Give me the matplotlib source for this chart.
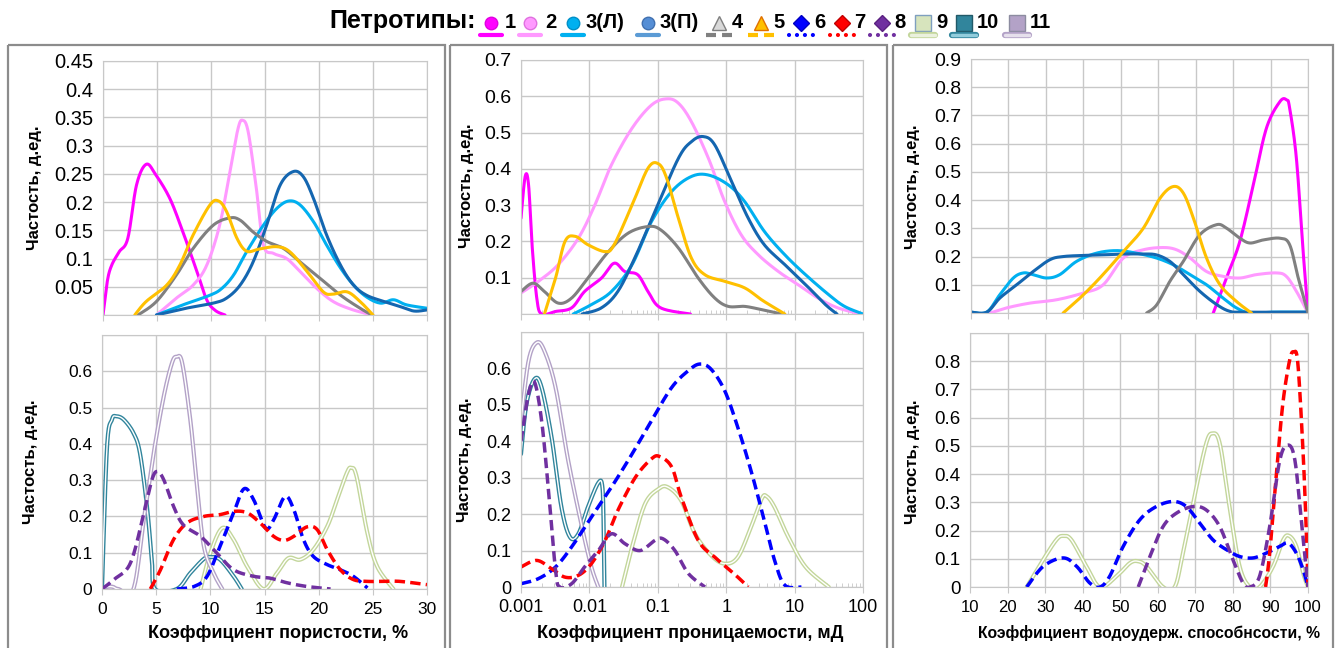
import numpy as np
import matplotlib
matplotlib.use('Agg')
import matplotlib.pyplot as plt
from matplotlib.patches import Rectangle
from matplotlib.ticker import FixedLocator, NullFormatter

W, H = 1338, 648
plt.rcParams['font.family'] = ['Liberation Sans', 'DejaVu Sans']
GRID = '#C8C8C8'

# ---------------- porosity, % (top: types 1-5) ----------------
por1_x = [0, 0.4, 0.8, 1.5, 2.3, 3.1, 4.0, 4.9, 6.2, 7.4, 8.7, 9.6, 10.4, 11.3]
por1_y = [0, 0.06, 0.088, 0.112, 0.136, 0.23, 0.267, 0.248, 0.206, 0.147, 0.077, 0.027, 0.008, 0]
por2_x = [4.95, 6.8, 8.35, 9.6, 10.8, 11.75, 12.5, 12.93, 13.45, 14.2, 14.85, 15.8, 17.0, 18.25, 19.8, 21.3, 23.0, 24.9]
por2_y = [0, 0.03, 0.053, 0.088, 0.159, 0.254, 0.33, 0.345, 0.324, 0.224, 0.124, 0.109, 0.1, 0.077, 0.047, 0.024, 0.01, 0]
por3l_x = [4.95, 7.4, 9.9, 11.0, 12.1, 13.3, 14.85, 16.1, 17.2, 18.25, 19.5, 20.7, 22.0, 23.2, 24.4, 25.7, 26.9, 28.1, 30]
por3l_y = [0, 0.018, 0.035, 0.047, 0.071, 0.112, 0.159, 0.189, 0.202, 0.195, 0.165, 0.124, 0.083, 0.053, 0.032, 0.021, 0.027, 0.018, 0.012]
por3p_x = [4.95, 7.7, 10.2, 11.45, 12.7, 13.9, 15.15, 16.4, 17.6, 18.55, 19.5, 20.7, 22.0, 23.2, 24.4, 26.0, 27.5, 28.8, 30]
por3p_y = [0, 0.012, 0.021, 0.03, 0.053, 0.094, 0.159, 0.23, 0.254, 0.245, 0.206, 0.142, 0.088, 0.053, 0.035, 0.024, 0.015, 0.007, 0.009]
por4_x = [3.25, 4.95, 6.8, 8.35, 10.2, 11.75, 12.7, 13.9, 15.2, 16.7, 18.25, 20.1, 22.0, 23.8, 24.9]
por4_y = [0, 0.024, 0.071, 0.118, 0.159, 0.172, 0.168, 0.147, 0.13, 0.118, 0.094, 0.065, 0.035, 0.012, 0]
por5_x = [2.94, 4.0, 5.9, 7.1, 8.35, 9.9, 10.7, 11.45, 12.4, 13.3, 14.5, 16.1, 17.3, 18.9, 20.4, 21.3, 22.6, 23.8, 25.0]
por5_y = [0, 0.024, 0.053, 0.088, 0.142, 0.195, 0.202, 0.183, 0.136, 0.113, 0.117, 0.121, 0.112, 0.077, 0.041, 0.037, 0.041, 0.024, 0]

# ---------------- porosity, % (bottom: types 6-11) ----------------
por6_x = [6.9, 8.5, 9.7, 10.9, 12.15, 13.1, 14.0, 15.1, 15.85, 16.9, 17.7, 18.6, 19.5, 20.8, 22.0, 23.2, 24.5]
por6_y = [0, 0.007, 0.035, 0.118, 0.21, 0.276, 0.246, 0.168, 0.191, 0.255, 0.219, 0.136, 0.09, 0.067, 0.053, 0.035, 0.003]
por7_x = [4.46, 5.4, 6.6, 7.85, 9.4, 10.9, 12.15, 13.4, 14.6, 15.85, 16.8, 17.7, 18.9, 19.85, 20.8, 22.0, 23.2, 24.5, 26.0, 27.5, 30]
por7_y = [0, 0.053, 0.136, 0.182, 0.2, 0.205, 0.214, 0.21, 0.182, 0.145, 0.134, 0.145, 0.171, 0.164, 0.108, 0.053, 0.026, 0.021, 0.021, 0.021, 0.012]
por8_x = [0, 1.1, 2.6, 3.8, 4.6, 5.1, 5.7, 6.6, 7.5, 9.1, 10.6, 12.15, 14.0, 15.5, 17.1, 18.9, 21.1]
por8_y = [0, 0.026, 0.07, 0.2, 0.3, 0.324, 0.301, 0.228, 0.177, 0.145, 0.099, 0.053, 0.035, 0.03, 0.017, 0.007, 0]
por9_x = [9.1, 10.0, 11.1, 12.15, 13.4, 14.9, 16.15, 17.2, 18.3, 19.5, 20.8, 21.7, 22.6, 23.0, 23.5, 24.5, 25.4, 26.9]
por9_y = [0, 0.099, 0.168, 0.136, 0.062, 0, 0.044, 0.085, 0.081, 0.108, 0.173, 0.246, 0.32, 0.334, 0.31, 0.154, 0.062, 0]
por10_x = [0, 0.46, 0.92, 1.3, 2.0, 2.9, 3.5, 4.15, 4.6, 4.9, 6.9, 8.15, 9.4, 10.0, 10.9, 12.15, 12.9]
por10_y = [0, 0.39, 0.467, 0.476, 0.467, 0.43, 0.375, 0.228, 0.081, 0, 0, 0.044, 0.083, 0.088, 0.081, 0.035, 0]
por11_x = [0, 0.5, 1.0, 1.5, 2.9, 3.85, 4.77, 5.7, 6.46, 6.9, 7.4, 8.15, 8.77, 9.4, 10.3, 11.1]
por11_y = [0, 0.006, 0.006, 0, 0, 0.19, 0.375, 0.531, 0.623, 0.64, 0.623, 0.467, 0.283, 0.118, 0.044, 0]

# ---------------- permeability, mD (top: types 1-5) ----------------
perm1_x = [0.001, 0.00115, 0.00129, 0.00145, 0.0017, 0.002, 0.0032, 0.0055, 0.0085, 0.015, 0.023, 0.033, 0.051, 0.072, 0.11, 0.3]
perm1_y = [0.264, 0.379, 0.356, 0.191, 0.044, 0, 0.007, 0.017, 0.062, 0.099, 0.14, 0.117, 0.108, 0.062, 0.017, 0]
perm2_x = [0.001, 0.0018, 0.0035, 0.0069, 0.012, 0.021, 0.042, 0.081, 0.135, 0.2, 0.31, 0.55, 0.95, 1.66, 2.95, 5.8, 11.2, 21.9, 42.7, 93]
perm2_y = [0.058, 0.09, 0.136, 0.209, 0.3, 0.411, 0.512, 0.576, 0.593, 0.581, 0.53, 0.429, 0.31, 0.218, 0.163, 0.117, 0.081, 0.044, 0.017, 0]
perm3l_x = [0.0058, 0.0107, 0.021, 0.042, 0.081, 0.16, 0.31, 0.55, 1.07, 1.86, 3.6, 7.2, 14.5, 31.6, 53.7, 100]
perm3l_y = [0, 0.026, 0.062, 0.136, 0.255, 0.338, 0.379, 0.383, 0.356, 0.31, 0.228, 0.163, 0.108, 0.053, 0.021, 0]
perm3p_x = [0.0078, 0.015, 0.026, 0.046, 0.091, 0.2, 0.31, 0.46, 0.68, 1.2, 2.1, 3.6, 7.2, 14.5, 28.2, 41.7]
perm3p_y = [0, 0.017, 0.062, 0.154, 0.283, 0.429, 0.475, 0.489, 0.466, 0.365, 0.264, 0.191, 0.136, 0.081, 0.026, 0]
perm4_x = [0.001, 0.0015, 0.0022, 0.0035, 0.0055, 0.0095, 0.019, 0.037, 0.072, 0.11, 0.2, 0.39, 0.68, 1.07, 1.86, 3.3, 6.5]
perm4_y = [0.062, 0.085, 0.062, 0.03, 0.044, 0.099, 0.172, 0.223, 0.241, 0.232, 0.182, 0.099, 0.044, 0.021, 0.021, 0.012, 0]
perm5_x = [0.0022, 0.0032, 0.0044, 0.0062, 0.0095, 0.017, 0.023, 0.042, 0.072, 0.102, 0.135, 0.2, 0.31, 0.49, 0.95, 1.86, 3.3, 5.1, 7.2]
perm5_y = [0, 0.099, 0.2, 0.214, 0.191, 0.172, 0.191, 0.3, 0.402, 0.414, 0.374, 0.264, 0.154, 0.108, 0.09, 0.072, 0.039, 0.017, 0]

# ---------------- permeability, mD (bottom: types 6-11) ----------------
perm6_x = [0.001, 0.0018, 0.0032, 0.0055, 0.0107, 0.021, 0.042, 0.081, 0.16, 0.28, 0.41, 0.6, 0.95, 1.48, 2.3, 3.6, 5.1, 7.2, 12.6]
perm6_y = [0.009, 0.023, 0.055, 0.11, 0.192, 0.274, 0.365, 0.457, 0.548, 0.594, 0.612, 0.598, 0.539, 0.438, 0.32, 0.183, 0.073, 0.005, 0]
perm7_x = [0.001, 0.0017, 0.0028, 0.0044, 0.0069, 0.0107, 0.017, 0.026, 0.047, 0.081, 0.107, 0.16, 0.22, 0.39, 0.68, 1.07, 1.48, 2.1]
perm7_y = [0.055, 0.073, 0.05, 0.027, 0.032, 0.064, 0.128, 0.21, 0.301, 0.352, 0.358, 0.329, 0.247, 0.128, 0.082, 0.05, 0.027, 0]
perm8_x = [0.001, 0.00129, 0.00158, 0.002, 0.0025, 0.0032, 0.0037, 0.0055, 0.0085, 0.0135, 0.021, 0.033, 0.055, 0.091, 0.12, 0.178, 0.28, 0.49]
perm8_y = [0.4, 0.53, 0.562, 0.457, 0.274, 0.046, 0, 0.009, 0.055, 0.1, 0.146, 0.119, 0.1, 0.128, 0.132, 0.1, 0.037, 0]
perm9_x = [0.03, 0.042, 0.065, 0.102, 0.14, 0.22, 0.35, 0.6, 0.95, 1.48, 2.3, 3.3, 3.9, 5.1, 8.1, 14.5, 31.6]
perm9_y = [0, 0.11, 0.228, 0.269, 0.274, 0.237, 0.146, 0.087, 0.064, 0.082, 0.164, 0.242, 0.249, 0.219, 0.137, 0.055, 0]
perm10_x = [0.001, 0.0012, 0.00158, 0.002, 0.0028, 0.0039, 0.0052, 0.0069, 0.0095, 0.0135, 0.0155, 0.0162, 0.0166]
perm10_y = [0.365, 0.502, 0.571, 0.548, 0.411, 0.219, 0.137, 0.146, 0.219, 0.286, 0.274, 0.15, 0]
perm11_x = [0.001, 0.00129, 0.0017, 0.0022, 0.0032, 0.0049, 0.0078, 0.0107, 0.0135]
perm11_y = [0.457, 0.621, 0.671, 0.648, 0.548, 0.347, 0.164, 0.055, 0]

# ---------------- water-holding capacity, % (top: types 1-5) ----------------
wat1_x = [74.7, 78.2, 81.8, 85.4, 88.9, 92.5, 94.3, 95.1, 96.9, 98.7, 100]
wat1_y = [0, 0.124, 0.254, 0.454, 0.655, 0.749, 0.755, 0.726, 0.548, 0.218, 0]
wat2_x = [15.1, 19.5, 25.7, 32.9, 40, 45.3, 50.7, 56, 61.3, 64.9, 68.5, 72.9, 77.3, 81.8, 86.2, 91.6, 94.2, 96.9, 100]
wat2_y = [0, 0.018, 0.035, 0.047, 0.071, 0.1, 0.195, 0.224, 0.232, 0.224, 0.195, 0.147, 0.13, 0.124, 0.136, 0.142, 0.13, 0.077, 0]
wat3l_x = [10, 14.2, 17.7, 21.3, 24, 26.6, 30.2, 33.7, 38.2, 43.5, 48.9, 54.2, 59.5, 64, 68.5, 72.9, 77.3, 80.9, 84.5, 90.7, 100]
wat3l_y = [0.003, 0.003, 0.065, 0.124, 0.142, 0.136, 0.124, 0.136, 0.183, 0.212, 0.221, 0.212, 0.195, 0.171, 0.136, 0.1, 0.053, 0.018, 0, 0.003, 0.003]
wat3p_x = [10, 14.2, 17.7, 22.2, 26.6, 31.1, 34.6, 40, 45.3, 50.7, 56, 59.5, 63.1, 66.7, 71.1, 75.6, 79.1, 82.7, 100]
wat3p_y = [0.003, 0.003, 0.053, 0.1, 0.147, 0.189, 0.2, 0.204, 0.206, 0.209, 0.209, 0.206, 0.183, 0.136, 0.077, 0.03, 0.006, 0.003, 0.003]
wat4_x = [56.9, 59.6, 63.1, 66.7, 71.1, 75.6, 78.2, 81.8, 84.5, 88.1, 92.5, 95.1, 97.4, 100]
wat4_y = [0, 0.029, 0.112, 0.183, 0.277, 0.313, 0.301, 0.265, 0.248, 0.259, 0.265, 0.242, 0.124, 0]
wat5_x = [34.6, 39.1, 44.4, 50.7, 56, 60.5, 64, 66.7, 69.4, 72.9, 76.5, 80.9, 84.9]
wat5_y = [0, 0.053, 0.124, 0.218, 0.3, 0.407, 0.448, 0.425, 0.336, 0.195, 0.1, 0.041, 0]

# ---------------- water-holding capacity, % (bottom: types 6-9) ----------------
wat6_x = [25.1, 29.5, 34.8, 38.4, 41.9, 44.6, 47.2, 50.8, 55.2, 59.6, 64.1, 67.6, 71.2, 74.7, 78.3, 81.8, 85.4, 88.9, 92.5, 94.7, 96.9, 98.7, 100]
wat6_y = [0, 0.073, 0.103, 0.073, 0.014, 0, 0.038, 0.144, 0.238, 0.285, 0.303, 0.285, 0.226, 0.167, 0.132, 0.108, 0.103, 0.12, 0.144, 0.156, 0.12, 0.061, 0]
wat7_x = [88.7, 89.8, 91.6, 93.3, 95.1, 96.2, 97.3, 98.7, 99.6, 100]
wat7_y = [0, 0.12, 0.403, 0.65, 0.803, 0.833, 0.792, 0.474, 0.179, 0]
wat8_x = [54.8, 57.9, 61.4, 65, 69.4, 72.9, 76.5, 80, 82.7, 84.5, 87.1, 89.8, 92.5, 94.7, 96.5, 98.2, 100]
wat8_y = [0, 0.108, 0.214, 0.262, 0.285, 0.273, 0.214, 0.097, 0.014, 0, 0.038, 0.214, 0.45, 0.503, 0.45, 0.238, 0]
wat9_x = [25.1, 29.5, 33.0, 34.8, 37, 41, 44.6, 49, 52.6, 54.8, 57, 61.4, 64.5, 66.7, 70.3, 72.9, 74.5, 76.5, 79.1, 81.8, 84.5, 87.1, 90.7, 93.4, 95, 96.9, 98.7, 100]
wat9_y = [0, 0.097, 0.167, 0.181, 0.167, 0.073, 0, 0.038, 0.085, 0.091, 0.073, 0, 0, 0.12, 0.356, 0.509, 0.544, 0.509, 0.285, 0.073, 0, 0, 0.073, 0.167, 0.181, 0.144, 0.049, 0]

# petrotype -> (line colour, line kind)
STYLE = {
    '1': ('#FF00FF', 'solid'), '2': ('#FF99FF', 'solid'),
    '3(Л)': ('#00B0F0', 'solid'), '3(П)': ('#1466B0', 'solid'),
    '4': ('#808080', 'solid'), '5': ('#FFC000', 'solid'),
    '6': ('#0000FF', 'dash'), '7': ('#FF0000', 'dash'), '8': ('#7030A0', 'dash'),
    '9': ('#C3D69B', 'double'), '10': ('#31859C', 'double'), '11': ('#B3A2C7', 'double'),
}


def smooth(x, y, logx=False, n=20):
    # Catmull-Rom spline through the points (same idea as a "smoothed line")
    x = np.log10(x) if logx else np.asarray(x, float)
    y = np.asarray(y, float)
    px = np.r_[x[0], x, x[-1]]
    py = np.r_[y[0], y, y[-1]]
    t = np.linspace(0, 1, n, endpoint=False)[:, None]
    h00 = 2 * t**3 - 3 * t**2 + 1
    h10 = t**3 - 2 * t**2 + t
    h01 = -2 * t**3 + 3 * t**2
    h11 = t**3 - t**2
    out = []
    for p in (px, py):
        p0, p1, p2, p3 = p[:-3], p[1:-2], p[2:-1], p[3:]
        c = h00 * p1 + h10 * (p2 - p0) / 2 + h01 * p2 + h11 * (p3 - p1) / 2
        out.append(np.r_[c.T.ravel(), p[-2]])
    sx, sy = out
    if logx:
        sx = 10 ** sx
    return sx, sy


def draw(ax, key, x, y, logx=False):
    color, kind = STYLE[key]
    sx, sy = smooth(x, y, logx)
    if kind == 'solid':
        ax.plot(sx, sy, color=color, lw=2.2, solid_capstyle='round', solid_joinstyle='round')
    elif kind == 'dash':
        ax.plot(sx, sy, color=color, lw=2.5, dashes=(3.0, 1.5))
    else:
        ax.plot(sx, sy, color=color, lw=3.0, solid_capstyle='round')
        ax.plot(sx, sy, color='white', lw=1.0, solid_capstyle='round')


fig = plt.figure(figsize=(W / 100, H / 100), dpi=100)


def add_axes(x0, x1, ytop, ybot):
    return fig.add_axes([x0 / W, 1 - ybot / H, (x1 - x0) / W, (ybot - ytop) / H])


def style_axes(ax, ymax, ystep, hide_zero, xticks, xlabels, ysize, xsize=12, logx=False):
    ax.set_ylim(0, ymax)
    yt = np.round(np.arange(0, ymax + ystep / 2, ystep), 3)
    ax.set_yticks(yt)
    labels = [f'{v:g}' for v in yt]
    if hide_zero:
        labels[0] = ''
    else:
        labels[-1] = ''
    ax.set_yticklabels(labels)
    if logx:
        ax.set_xscale('log')
        ax.xaxis.set_minor_locator(FixedLocator(
            [m * 10.0**e for e in range(-3, 2) for m in range(2, 10)]))
        ax.xaxis.set_minor_formatter(NullFormatter())
        ax.tick_params(axis='x', which='minor', direction='in', length=3, color=GRID)
    ax.set_xlim(xticks[0], xticks[-1])
    ax.set_xticks(xticks)
    ax.set_xticklabels(xlabels if xlabels else [''] * len(xticks))
    ax.grid(True, which='major', color=GRID, lw=1)
    ax.set_axisbelow(True)
    for s in ax.spines.values():
        s.set_color(GRID)
    ax.tick_params(axis='y', length=0, pad=7, labelsize=ysize)
    ax.tick_params(axis='x', which='major', length=4, color=GRID, direction='out',
                   labelsize=xsize, pad=5)


por_ticks = [0, 5, 10, 15, 20, 25, 30]
perm_ticks = [0.001, 0.01, 0.1, 1, 10, 100]
perm_labels = ['0.001', '0.01', '0.1', '1', '10', '100']
wat_ticks = list(range(10, 101, 10))

# porosity
ax = add_axes(103, 427, 61, 315)
style_axes(ax, 0.45, 0.05, True, por_ticks, None, 14.5)
for k, x, y in [('1', por1_x, por1_y), ('2', por2_x, por2_y), ('3(Л)', por3l_x, por3l_y),
                ('3(П)', por3p_x, por3p_y), ('4', por4_x, por4_y), ('5', por5_x, por5_y)]:
    draw(ax, k, x, y)

ax = add_axes(102, 427, 335, 589)
style_axes(ax, 0.7, 0.1, False, por_ticks, [str(v) for v in por_ticks], 12.5, 12.5)
for k, x, y in [('9', por9_x, por9_y), ('10', por10_x, por10_y), ('11', por11_x, por11_y),
                ('6', por6_x, por6_y), ('7', por7_x, por7_y), ('8', por8_x, por8_y)]:
    draw(ax, k, x, y)

# permeability
ax = add_axes(521, 863, 60, 314)
style_axes(ax, 0.7, 0.1, True, perm_ticks, None, 14, logx=True)
for k, x, y in [('1', perm1_x, perm1_y), ('2', perm2_x, perm2_y), ('3(Л)', perm3l_x, perm3l_y),
                ('3(П)', perm3p_x, perm3p_y), ('4', perm4_x, perm4_y), ('5', perm5_x, perm5_y)]:
    draw(ax, k, x, y, logx=True)

ax = add_axes(521, 863, 332, 587)
style_axes(ax, 0.7, 0.1, False, perm_ticks, perm_labels, 13, 13, logx=True)
for k, x, y in [('9', perm9_x, perm9_y), ('10', perm10_x, perm10_y), ('11', perm11_x, perm11_y),
                ('6', perm6_x, perm6_y), ('7', perm7_x, perm7_y), ('8', perm8_x, perm8_y)]:
    draw(ax, k, x, y, logx=True)

# water-holding capacity
ax = add_axes(971, 1308, 59, 313)
style_axes(ax, 0.9, 0.1, True, wat_ticks, None, 14)
for k, x, y in [('1', wat1_x, wat1_y), ('2', wat2_x, wat2_y), ('3(Л)', wat3l_x, wat3l_y),
                ('3(П)', wat3p_x, wat3p_y), ('4', wat4_x, wat4_y), ('5', wat5_x, wat5_y)]:
    draw(ax, k, x, y)

ax = add_axes(970, 1308, 333, 587)
style_axes(ax, 0.9, 0.1, False, wat_ticks, [str(v) for v in wat_ticks], 13.5, 12)
for k, x, y in [('9', wat9_x, wat9_y), ('6', wat6_x, wat6_y), ('7', wat7_x, wat7_y),
                ('8', wat8_x, wat8_y)]:
    draw(ax, k, x, y)

# axis titles
for px, py in [(34, 188), (30, 462), (466, 186), (465, 460), (913, 187), (912, 462)]:
    fig.text(px / W, 1 - py / H, 'Частость, д.ед.', rotation=90, ha='center', va='center',
             fontsize=12, fontweight='bold')
for px, text, fs in [(278, 'Коэффициент пористости, %', 13),
                     (690, 'Коэффициент проницаемости, мД', 13),
                     (1149, 'Коэффициент водоудерж. способнсости, %', 11.3)]:
    fig.text(px / W, 1 - 633 / H, text, ha='center', va='center', fontsize=fs,
             fontweight='bold')

# overlay in pixel coordinates: panel frames and the petrotype legend
ov = fig.add_axes([0, 0, 1, 1])
ov.set_xlim(0, W)
ov.set_ylim(H, 0)
ov.axis('off')
ov.patch.set_visible(False)
for x0, x1 in [(8, 445), (450, 887), (893, 1333)]:
    ov.add_patch(Rectangle((x0, 45), x1 - x0, 640, fill=False, ec='#8C8C8C', lw=1.6))

ov.text(329, 21, 'Петротипы:', ha='left', va='center', fontsize=18, fontweight='bold')

legend_items = [
    # label, marker x, label x, marker, face, edge
    ('1', 491, 505, 'o', '#FF00FF', '#E000E0'),
    ('2', 530, 545, 'o', '#FF99FF', '#E070E0'),
    ('3(Л)', 573, 586, 'o', '#00B0F0', '#0090C8'),
    ('3(П)', 648, 660, 'o', '#558ED5', '#4070B0'),
    ('4', 719, 732, '^', '#D9D9D9', '#7F7F7F'),
    ('5', 761, 773, '^', '#FFC000', '#E07000'),
    ('6', 801, 814, 'D', '#0000FF', '#0000C0'),
    ('7', 842, 854, 'D', '#FF0000', '#C00000'),
    ('8', 882, 894, 'D', '#7030A0', '#5A2080'),
    ('9', 923, 936, 's', '#D7E4BD', '#7F9FBF'),
    ('10', 964, 977, 's', '#31859C', '#215968'),
    ('11', 1017, 1030, 's', '#B3A2C7', '#8C8CA0'),
]
legend_fill = {'9': '#EBF1DE', '10': '#92CDDC', '11': '#E6E0EC'}
for label, mx, lx, mk, fc, ec in legend_items:
    ms = {'o': 9, '^': 10, 'D': 8, 's': 11}[mk]
    ov.plot([mx], [23], marker=mk, ms=ms, mfc=fc, mec=ec, mew=1.0, ls='none')
    ov.text(lx, 22, label, ha='left', va='center', fontsize=14.5, fontweight='bold')
    color, kind = STYLE[label]
    if label == '3(П)':
        color = '#5B9BD5'
    if kind == 'solid' and label in ('4', '5'):
        ov.plot([mx - 13, mx + 13], [35, 35], color=color, lw=3.0, dashes=(2.4, 1.45))
    elif kind == 'solid':
        ov.plot([mx - 11, mx + 11], [35, 35], color=color, lw=3.0, solid_capstyle='round')
    elif kind == 'dash':
        ov.plot([mx - 12, mx + 12.5], [35, 35], color=color, lw=3.0, dashes=(0.01, 1.9),
                dash_capstyle='round')
    else:
        ov.plot([mx - 12, mx + 12], [35, 35], color=color, lw=4.5, solid_capstyle='round')
        ov.plot([mx - 12, mx + 12], [35, 35], color=legend_fill[label], lw=2.5,
                solid_capstyle='round')

fig.savefig('out.png', dpi=100)
